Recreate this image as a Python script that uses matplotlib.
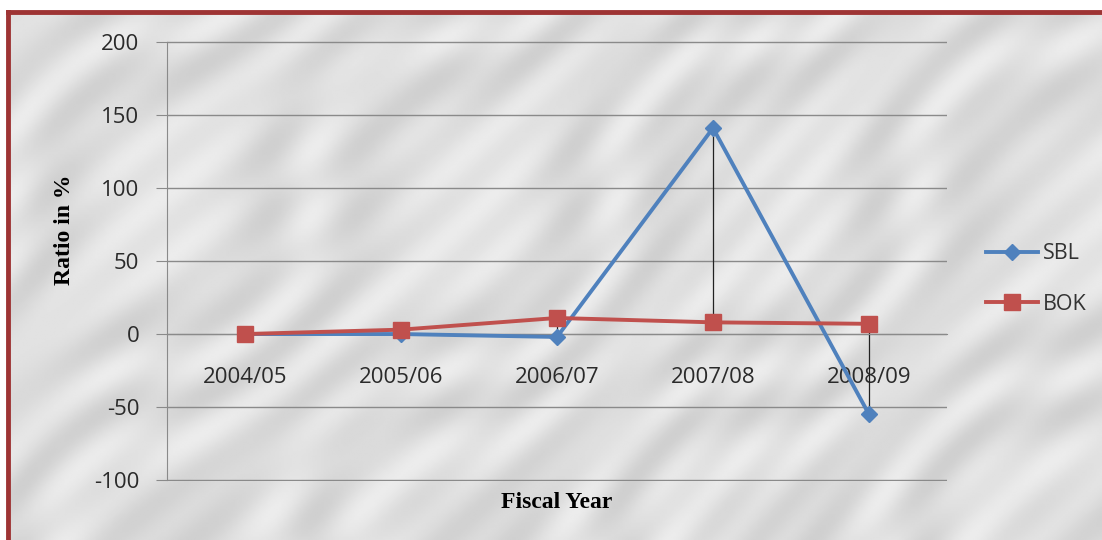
import numpy as np
import matplotlib
matplotlib.use("Agg")
import matplotlib.pyplot as plt

plt.rcParams["axes.unicode_minus"] = False

# data
years = ["2004/05", "2005/06", "2006/07", "2007/08", "2008/09"]
sbl = [0, 0, -2, 141, -55]
bok = [0, 3, 11, 8, 7]

blue = "#4f81bd"
red = "#c0504d"
grid_c = "#8a8a8a"

fig = plt.figure(figsize=(11.02, 5.40), dpi=100)
fig.patch.set_facecolor("white")

# backdrop: soft grey "marble" veining, dark red frame on top/left
back = fig.add_axes([8 / 1102, 0, 1 - 8 / 1102, 1 - 12 / 540], zorder=-1)
gx, gy = np.meshgrid(np.linspace(0, 1, 600), np.linspace(0, 1, 300))
d = gx * 3.2 + gy * 1.6
vein = np.sin(14 * d + 2.5 * np.sin(9 * gy) + 1.5 * np.sin(23 * gx)) \
    + 0.6 * np.sin(31 * d + 3 * np.cos(7 * gx))
tex = 0.87 + 0.035 * vein
back.imshow(tex, cmap="gray", vmin=0, vmax=1, aspect="auto",
            extent=[0, 1, 0, 1], interpolation="bilinear")
back.set_xlim(0, 1)
back.set_ylim(0, 1)
back.set_xticks([])
back.set_yticks([])
for s in ["right", "bottom"]:
    back.spines[s].set_visible(False)
for s in ["top", "left"]:
    back.spines[s].set_color("#9e3434")
    back.spines[s].set_linewidth(3.5)

ax = fig.add_axes([167 / 1102, 59 / 540, 780 / 1102, 440 / 540])
ax.set_facecolor("none")

x = np.arange(len(years))

# high-low lines
lo = np.minimum(sbl, bok)
hi = np.maximum(sbl, bok)
ax.vlines(x, lo, hi, color="#222222", lw=0.9, zorder=2)

ax.plot(x, sbl, color=blue, lw=2.8, marker="D", ms=8.5, label="SBL", zorder=3)
ax.plot(x, bok, color=red, lw=2.8, marker="s", ms=11, label="BOK", zorder=4)

ax.set_xlim(-0.5, len(years) - 0.5)
ax.set_ylim(-100.6, 200.6)
ax.set_yticks(np.arange(-100, 201, 50))
ax.yaxis.grid(True, color=grid_c, lw=1)
ax.set_axisbelow(True)

ax.set_xticks(x)
ax.set_xticklabels(years)
for s in ["top", "right"]:
    ax.spines[s].set_visible(False)
ax.spines["bottom"].set_position(("data", 0))
ax.spines["bottom"].set_color(grid_c)
ax.spines["left"].set_color(grid_c)
ax.spines["left"].set_bounds(-100, 200)
ax.tick_params(axis="x", length=0, pad=24, labelsize=16, labelcolor="#2a2a2a")
ax.tick_params(axis="y", length=8, color=grid_c, pad=12, labelsize=16, labelcolor="#2a2a2a")
for lab in ax.get_xticklabels() + ax.get_yticklabels():
    lab.set_fontfamily("Open Sans")

fig.text(65 / 1102, 1 - 230 / 540, "Ratio in %", rotation=90, ha="center", va="center",
         fontsize=17, fontweight="bold", fontfamily="Liberation Serif")
fig.text(557 / 1102, 1 - 502 / 540, "Fiscal Year", ha="center", va="center",
         fontsize=17, fontweight="bold", fontfamily="Liberation Serif")

leg = ax.legend(loc="center left", bbox_to_anchor=(986 / 1102, 1 - 279 / 540),
                bbox_transform=fig.transFigure, frameon=False, borderpad=0, borderaxespad=0,
                handlelength=2.4, handletextpad=0.25, labelspacing=1.35,
                prop={"family": "Open Sans", "size": 15.5})
for t in leg.get_texts():
    t.set_color("#333333")

fig.savefig("out.png", dpi=100)
